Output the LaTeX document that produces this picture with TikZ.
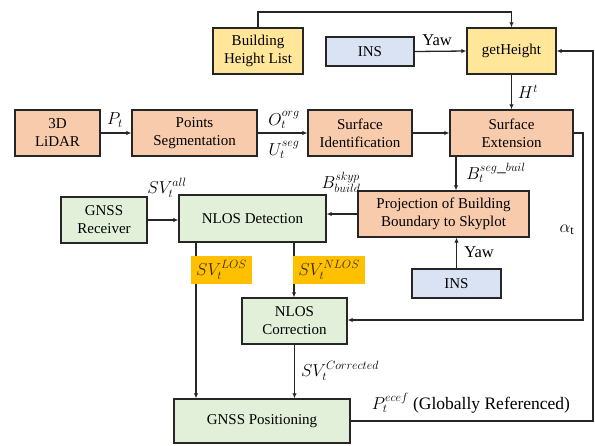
\documentclass[tikz,border=0pt]{standalone}
\usepackage{fontspec}
\setmainfont{Liberation Serif}
\usetikzlibrary{arrows.meta}
\definecolor{boxline}{HTML}{262626}
\definecolor{fillorange}{HTML}{F8CBAD}
\definecolor{fillyellow}{HTML}{FFE699}
\definecolor{fillblue}{HTML}{DAE3F3}
\definecolor{fillgreen}{HTML}{E2F0D9}
\definecolor{fillhigh}{HTML}{FFC000}
\definecolor{hightext}{HTML}{3A2A0E}
\tikzset{
  blk/.style={draw=boxline, line width=1.4pt, align=center, inner sep=0pt,
    font=\fontsize{15}{18}\selectfont},
  orange/.style={blk, fill=fillorange},
  yellow/.style={blk, fill=fillyellow},
  blue/.style={blk, fill=fillblue},
  green/.style={blk, fill=fillgreen},
  high/.style={fill=fillhigh, inner sep=0pt, text=hightext, font=\fontsize{17}{18}\selectfont},
  sz/.style 2 args={minimum width=#1pt, minimum height=#2pt},
  arr/.style={draw=boxline, line width=1.3pt, -{Latex[length=5pt,width=4.5pt]}},
  lbl/.style={inner sep=0pt, font=\fontsize{17.5}{18}\selectfont},
  wlbl/.style={inner sep=0pt, font=\fontsize{16.5}{18}\selectfont},
}
\begin{document}
\begin{tikzpicture}[x=1pt, y=-1pt]
\useasboundingbox (0,0) rectangle (595,445);

% blocks
\node[yellow, sz={90}{46}] (bhl) at (258,51) {Building\\Height List};
\node[blue, sz={88}{29}] (ins1) at (370,51.5) {INS};
\node[yellow, sz={89}{46}] (geth) at (511.5,51) {getHeight};
\node[orange, sz={85}{46}] (lidar) at (57.5,133) {3D\\LiDAR};
\node[orange, sz={125}{46}] (pseg) at (194.5,133) {Points\\Segmentation};
\node[orange, sz={104}{46}] (sid) at (360,133) {Surface\\Identification};
\node[orange, sz={123}{46}] (sext) at (511.5,133) {Surface\\Extension};
\node[orange, sz={171}{46}] (proj) at (443.5,214) {Projection of Building\\Boundary to Skyplot};
\node[green, sz={147}{47}] (nlosd) at (252.5,218.5) {NLOS Detection};
\node[green, sz={86}{46}] (gnssr) at (104,220) {GNSS\\Receiver};
\node[green, sz={105}{46}] (nlosc) at (294.5,321) {NLOS\\Correction};
\node[green, sz={176}{44}] (gpos) at (262,421) {GNSS Positioning};
\node[blue, sz={89}{29}] (ins2) at (456.5,283.5) {INS};

% routing coordinates
\coordinate (topy) at (0,12);
\coordinate (xskyp) at (456,0);
\coordinate (xlos) at (196,0);
\coordinate (xnlos) at (294,0);
\coordinate (xalpha) at (583,0);
\coordinate (xfeed) at (593,0);
\coordinate (yalpha) at (0,320);

% connectors
\draw[arr] (bhl.north) -- (bhl.north |- topy) -| (geth.north);
\draw[arr] (ins1.east) -- (geth.west);
\draw[arr] (geth.south) -- (sext.north);
\draw[arr] (lidar.east) -- (pseg.west);
\draw[arr] (pseg.east) -- (sid.west);
\draw[arr] (sid.east) -- (sext.west);
\draw[arr] (sext.south -| xskyp) -- (proj.north -| xskyp);
\draw[arr] (ins2.north) -- (proj.south -| ins2.north);
\draw[arr] (proj.west) -- (proj.west -| nlosd.east);
\draw[arr] (gnssr.east) -- (gnssr.east -| nlosd.west);
\draw[arr] (nlosd.south -| xlos) -- (gpos.north -| xlos);
\draw[arr] (nlosd.south -| xnlos) -- (nlosc.north -| xnlos);
\draw[arr] (nlosc.south) -- (gpos.north -| nlosc.south);
\draw[arr] (sext.east) -- (sext.east -| xalpha) -- (xalpha |- yalpha) -- (nlosc.east |- yalpha);
\draw[arr] (gpos.east) -- (gpos.east -| xfeed) -- (xfeed |- geth.east) -- (geth.east);

% highlighted satellite sets
\node[high, sz={61}{28}] (los) at (221.5,270) {$SV_t^{LOS}$};
\node[high, sz={72}{28}] (nlos) at (329,270) {$SV_t^{NLOS}$};

% labels
\node[wlbl] (yaw1) at (437,40) {Yaw};
\node[lbl] (ht) at (528,92) {$H^t$};
\node[lbl] (pt) at (115,120) {$P_t$};
\node[lbl] (oorg) at (284,120) {$O_t^{org}$};
\node[lbl] (useg) at (284,150) {$U_t^{seg}$};
\node[lbl] (bseg) at (496,173) {$B_t^{seg\_buil}$};
\node[lbl] (bsky) at (341,182) {$B_{build}^{skyp}$};
\node[lbl] (svall) at (167,188) {$SV_t^{all}$};
\node[wlbl] (yaw2) at (479,252) {Yaw};
\node[lbl] (alpha) at (567,230) {$\alpha_{\mathrm{t}}$};
\node[lbl] (svcor) at (340,371) {$SV_t^{Corrected}$};
\node[lbl] (pecef) at (471,403) {$P_t^{ecef}$ (Globally Referenced)};
\end{tikzpicture}
\end{document}
